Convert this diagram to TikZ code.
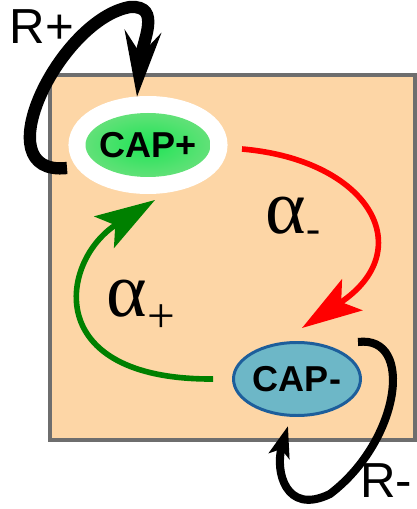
\documentclass[tikz,border=0pt]{standalone}
\usepackage{fontspec}
\setmainfont{Liberation Sans}
\newfontfamily\greekfont{Liberation Serif}
\usetikzlibrary{shapes.geometric,arrows.meta}
\definecolor{peach}{RGB}{253,214,166}
\definecolor{framegray}{RGB}{110,110,110}
\definecolor{capcore}{RGB}{30,228,85}
\definecolor{capedge}{RGB}{165,222,155}
\definecolor{capteal}{RGB}{109,183,199}
\definecolor{capblue}{RGB}{29,94,155}
\definecolor{rategreen}{RGB}{0,128,0}
\pgfdeclareradialshading{capglow}{\pgfpoint{0bp}{0bp}}{color(0bp)=(capcore); color(50bp)=(capedge)}
\tikzset{
  cellbox/.style={draw=framegray,fill=peach,line width=2.3pt},
  capplus/.style={ellipse,inner sep=0pt,minimum width=2.5cm,minimum height=1.28cm,shade,shading=capglow,preaction={draw=white,line width=0.68cm},font=\bfseries\fontsize{20.5}{24}\selectfont},
  capminus/.style={ellipse,inner sep=0pt,minimum width=2.54cm,minimum height=1.46cm,draw=capblue,fill=capteal,line width=1.7pt,font=\bfseries\fontsize{20.5}{24}\selectfont},
  loopbig/.style={-{Stealth[length=1.3cm,width=0.72cm,inset=0.45cm]},line width=7pt},
  loopsmall/.style={-{Stealth[length=0.62cm,width=0.42cm,inset=0.14cm]},line width=4.6pt},
  ratearr/.style={-{Stealth[length=1.2cm,width=0.74cm,inset=0.26cm]},line width=3.2pt},
  looplab/.style={font=\fontsize{28}{32}\selectfont,inner sep=0pt},
  ratelab/.style={font=\greekfont\fontsize{44}{48}\selectfont,inner sep=0pt}
}
\begin{document}
\begin{tikzpicture}[x=1cm,y=1cm]
  \useasboundingbox (0,0) rectangle (8.34,10.18);
  \draw[cellbox] (1.0,1.38) rectangle (8.3,8.68);

  \node[capplus] (capP) at (2.96,7.28) {\makebox[0pt]{CAP+}};
  \node[capminus] (capM) at (5.94,2.60) {\makebox[0pt]{CAP-}};

  % feedback loops
  \coordinate (rpTop) at (2.6,10.04);
  \draw[loopbig] ([shift={(-1.62,-0.46)}]capP.center) .. controls +(-1.7,-0.18) and +(-1.4,-0.24) .. (rpTop)
    .. controls +(0.65,0.04) and +(0.1,1.1) .. ([shift={(-0.22,0.96)}]capP.center);
  \coordinate (rmBot) at (6.6,0.3);
  \draw[loopsmall] ([shift={(1.22,0.74)}]capM.center) .. controls +(1.14,0.14) and +(1.4,1.06) .. (rmBot)
    .. controls +(-0.9,-0.44) and +(-0.26,-0.88) .. ([shift={(-0.18,-0.94)}]capM.center);
  \node[looplab] (rplus) at (0.84,9.64) {R+};
  \node[looplab] (rminus) at (7.72,0.56) {R-};

  % switching rates
  \draw[ratearr,red] ([shift={(1.88,-0.08)}]capP.center) .. controls +(2.56,-0.22) and +(2.36,1.56) .. ([shift={(0.1,1.02)}]capM.center);
  \draw[ratearr,rategreen] ([shift={(-1.68,0)}]capM.center) .. controls +(-3.46,-0.02) and +(-1.9,-1.2) .. ([shift={(0.14,-1.1)}]capP.center);
  \node[ratelab] (aminus) at (5.86,5.78) {α\raisebox{-5pt}{\fontsize{24}{26}\selectfont -}};
  \node[ratelab] (aplus) at (2.82,4.06) {α\raisebox{-9pt}{\fontsize{28}{30}\selectfont +}};
\end{tikzpicture}
\end{document}
